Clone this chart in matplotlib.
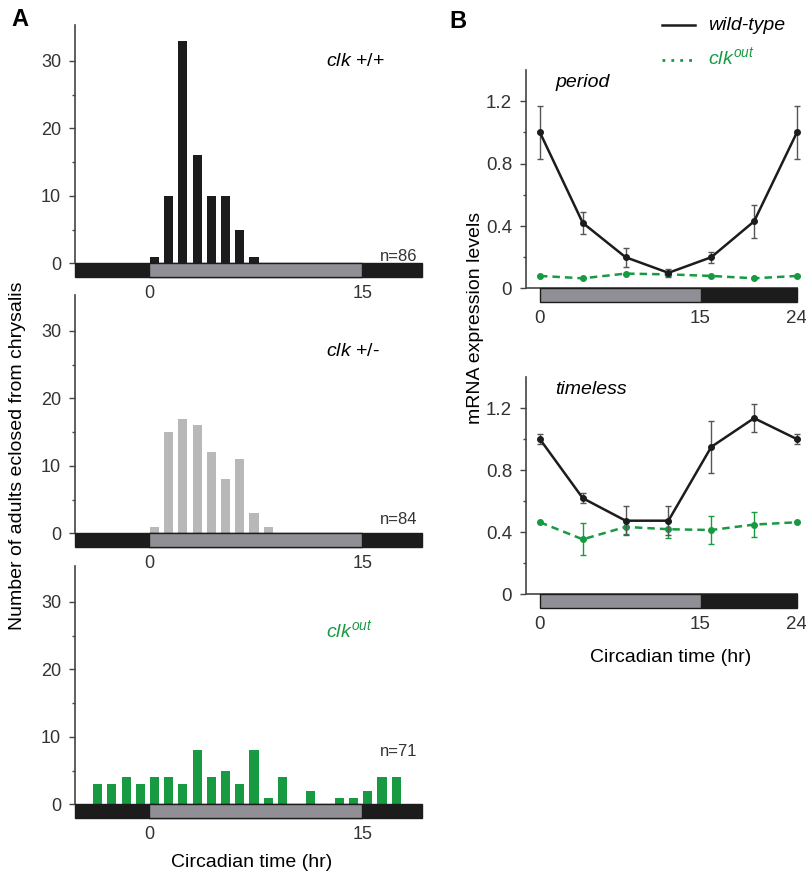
import numpy as np
import matplotlib
matplotlib.use("Agg")
import matplotlib.pyplot as plt
from matplotlib.lines import Line2D
from matplotlib.patches import Rectangle

plt.rcParams["font.family"] = ["Liberation Sans", "DejaVu Sans"]
plt.rcParams["mathtext.fontset"] = "custom"
plt.rcParams["mathtext.rm"] = "Liberation Sans"
plt.rcParams["mathtext.it"] = "Liberation Sans:italic"

# ---- panel A data (eclosion counts per hour bin) ----
hours_wt = [0, 1, 2, 3, 4, 5, 6, 7]
counts_wt = [1, 10, 33, 16, 10, 10, 5, 1]
hours_het = [0, 1, 2, 3, 4, 5, 6, 7, 8]
counts_het = [1, 15, 17, 16, 12, 8, 11, 3, 1]
hours_out = list(range(-4, 18))
counts_out = [3, 3, 4, 3, 4, 4, 3, 8, 4, 5, 3, 8, 1, 4, 0, 2, 0, 1, 1, 2, 4, 4]

# ---- panel B data (mRNA levels) ----
ct = [0, 4, 8, 12, 16, 20, 24]
per_wt = [1.0, 0.42, 0.20, 0.10, 0.20, 0.43, 1.0]
per_wt_err = [0.17, 0.07, 0.06, 0.025, 0.035, 0.105, 0.17]
per_out = [0.08, 0.065, 0.095, 0.09, 0.08, 0.065, 0.08]
per_out_err = [0.0, 0.0, 0.0, 0.01, 0.0, 0.0, 0.0]
tim_wt = [1.0, 0.62, 0.475, 0.475, 0.95, 1.135, 1.0]
tim_wt_err = [0.03, 0.033, 0.095, 0.095, 0.165, 0.088, 0.03]
tim_out = [0.465, 0.355, 0.435, 0.42, 0.415, 0.45, 0.465]
tim_out_err = [0.0, 0.104, 0.045, 0.055, 0.088, 0.081, 0.0]

BLACK = "#1c1c1c"
LD_GRAY = "#8f8f95"
GREEN = "#179a42"
TXT = "#333333"

W, H = 806, 872
fig = plt.figure(figsize=(W / 100, H / 100), dpi=100)


def rect(x0, y_top, x1, y_bot):
    return [x0 / W, 1 - y_bot / H, (x1 - x0) / W, (y_bot - y_top) / H]


def ld_bar(ax, x0, x1, y0, y1):
    ax.add_patch(Rectangle((x0, y0), x1 - x0, y1 - y0, facecolor=BLACK,
                           edgecolor=BLACK, lw=1, clip_on=False, zorder=3))
    ax.add_patch(Rectangle((0, y0), 15, y1 - y0, facecolor=LD_GRAY,
                           edgecolor=BLACK, lw=1, clip_on=False, zorder=4))


def hist_panel(ax, hours, counts, color, label, lcolor, ly, ntext, ny):
    ax.patch.set_visible(False)
    ax.bar(np.array(hours) + 0.39, counts, width=0.64, color=color, zorder=2)
    ax.set_xlim(-5.2, 19.2)
    ax.set_ylim(-2, 35.3)
    ld_bar(ax, -5.2, 19.2, -2, 0)
    for s in ["top", "right", "bottom"]:
        ax.spines[s].set_visible(False)
    ax.spines["left"].set_bounds(0, 35.3)
    ax.spines["left"].set_color("#444444")
    ax.spines["left"].set_linewidth(1.2)
    ax.set_yticks([0, 10, 20, 30])
    ax.set_yticks([5, 15, 25], minor=True)
    ax.tick_params(axis="y", which="major", length=4, width=1, color="#444444",
                   labelsize=13, labelcolor=TXT, pad=6)
    ax.tick_params(axis="y", which="minor", length=2.5, width=1, color="#444444")
    ax.set_xticks([0, 15])
    ax.tick_params(axis="x", length=0, labelsize=13, labelcolor=TXT, pad=6)
    ax.text(0.722, ly, label, transform=ax.transAxes,
            fontsize=14, color=lcolor, va="center", ha="left")
    ax.text(0.986, ny, ntext, transform=ax.transAxes, fontsize=12,
            color=TXT, va="center", ha="right")


ax1 = fig.add_axes(rect(75, 25, 422, 277))
hist_panel(ax1, hours_wt, counts_wt, BLACK, r"$\mathit{clk}$ +/+", "black", 0.857,
           "n=86", 0.083)
ax2 = fig.add_axes(rect(75, 295, 422, 547))
hist_panel(ax2, hours_het, counts_het, "#b8b8b8", r"$\mathit{clk}$ +/-", "black", 0.774,
           "n=84", 0.111)
ax3 = fig.add_axes(rect(75, 566, 422, 818))
hist_panel(ax3, hours_out, counts_out, GREEN, r"$\mathit{clk}^{\mathit{out}}$", GREEN, 0.745,
           "n=71", 0.264)

fig.text(18 / W, 1 - 456 / H, "Number of adults eclosed from chrysalis",
         rotation=90, ha="center", va="center", fontsize=14)
fig.text(252 / W, 1 - 862 / H, "Circadian time (hr)", ha="center", va="center", fontsize=14)


def expr_panel(ax, wt, wt_err, out, out_err, gene):
    ax.patch.set_visible(False)
    ax.errorbar(ct, out, yerr=out_err, color=GREEN, lw=1.8, ls=(0, (3, 2)),
                marker="o", ms=4, capsize=2, elinewidth=1, ecolor=GREEN,
                zorder=3, clip_on=False)
    ax.errorbar(ct, wt, yerr=wt_err, color=BLACK, lw=1.8, marker="o", ms=4,
                capsize=2, elinewidth=1, ecolor="#555555", zorder=4, clip_on=False)
    ax.set_xlim(-1.3, 24.1)
    ax.set_ylim(-0.087, 1.4)
    ld_bar(ax, 15, 24.0, -0.087, 0)
    ax.axhline(0, color="#444444", lw=1.2, zorder=2)
    for s in ["top", "right", "bottom"]:
        ax.spines[s].set_visible(False)
    ax.spines["left"].set_bounds(0, 1.4)
    ax.spines["left"].set_color("#444444")
    ax.spines["left"].set_linewidth(1.2)
    ax.set_yticks([0, 0.4, 0.8, 1.2])
    ax.set_yticklabels(["0", "0.4", "0.8", "1.2"])
    ax.set_yticks([0.2, 0.6, 1.0], minor=True)
    ax.tick_params(axis="y", which="major", length=4, width=1, color="#444444",
                   labelsize=13.5, labelcolor=TXT, pad=6)
    ax.tick_params(axis="y", which="minor", length=2.5, width=1, color="#444444")
    ax.set_xticks([0, 15, 24])
    ax.tick_params(axis="x", length=0, labelsize=13.5, labelcolor=TXT, pad=6)
    ax.text(0.107, 0.944, gene, transform=ax.transAxes, fontsize=14,
            style="italic", va="center", ha="left")


ax4 = fig.add_axes(rect(526, 70, 798, 302))
expr_panel(ax4, per_wt, per_wt_err, per_out, per_out_err, "period")
ax5 = fig.add_axes(rect(526, 377, 798, 608))
expr_panel(ax5, tim_wt, tim_wt_err, tim_out, tim_out_err, "timeless")

fig.text(476 / W, 1 - 318 / H, "mRNA expression levels", rotation=90,
         ha="center", va="center", fontsize=14)
fig.text(671 / W, 1 - 657 / H, "Circadian time (hr)", ha="center", va="center", fontsize=14)

# legend
fig.add_artist(Line2D([662 / W, 695 / W], [1 - 25 / H, 1 - 25 / H], color=BLACK, lw=1.8))
fig.add_artist(Line2D([662 / W, 695 / W], [1 - 60 / H, 1 - 60 / H], color=GREEN,
                      lw=2, ls=(0, (1, 2.2))))
fig.text(708 / W, 1 - 25 / H, "wild-type", fontsize=14, style="italic", va="center")
fig.text(708 / W, 1 - 57 / H, r"$\mathit{clk}^{\mathit{out}}$", fontsize=14,
         color=GREEN, va="center")

fig.text(20 / W, 1 - 20 / H, "A", fontsize=17, weight="bold", ha="center", va="center")
fig.text(458 / W, 1 - 21 / H, "B", fontsize=17, weight="bold", ha="center", va="center")

fig.savefig("out.png", dpi=100)
